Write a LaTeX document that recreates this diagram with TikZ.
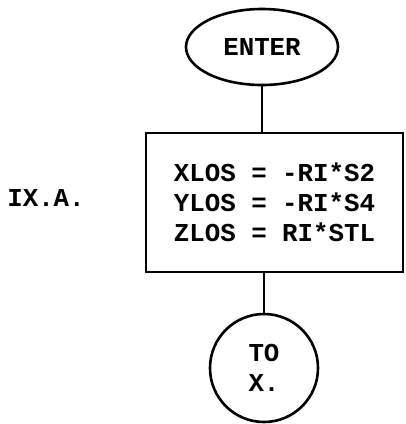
\documentclass[tikz,border=0pt]{standalone}
\usepackage{fontspec}
\setmonofont{Liberation Mono}
\usetikzlibrary{shapes.geometric, positioning}
\newcommand{\flowfont}{\fontsize{12.9}{15}\selectfont\ttfamily\bfseries}
\tikzset{
  term/.style={ellipse, draw, line width=1.3pt, minimum width=76pt, minimum height=38pt, inner sep=0pt, font=\flowfont},
  proc/.style={rectangle, draw, line width=1.3pt, minimum width=128.5pt, minimum height=69.5pt, align=left, font=\flowfont},
  conn/.style={circle, draw, line width=1.3pt, minimum size=54pt, inner sep=0pt, align=left, font=\flowfont},
  tag/.style={font=\flowfont},
  link/.style={line width=1.3pt},
}

\begin{document}
\begin{tikzpicture}[x=0.5pt, y=-0.5pt]
\useasboundingbox (0,0) rectangle (406,424);
\node[term] (enter) at (262,47) {ENTER};
\node[proc] (calc) at (274.5,202.5) {XLOS = -RI*S2\\YLOS = -RI*S4\\ZLOS = RI*STL};
\node[conn] (exit) at (264,368) {TO\\X.};
\node[tag] (lbl) at (46,198) {IX.A.};
\draw[link](enter)--(enter |- calc.north);\draw[link](calc.south -| exit)--(exit);
\end{tikzpicture}
\end{document}
